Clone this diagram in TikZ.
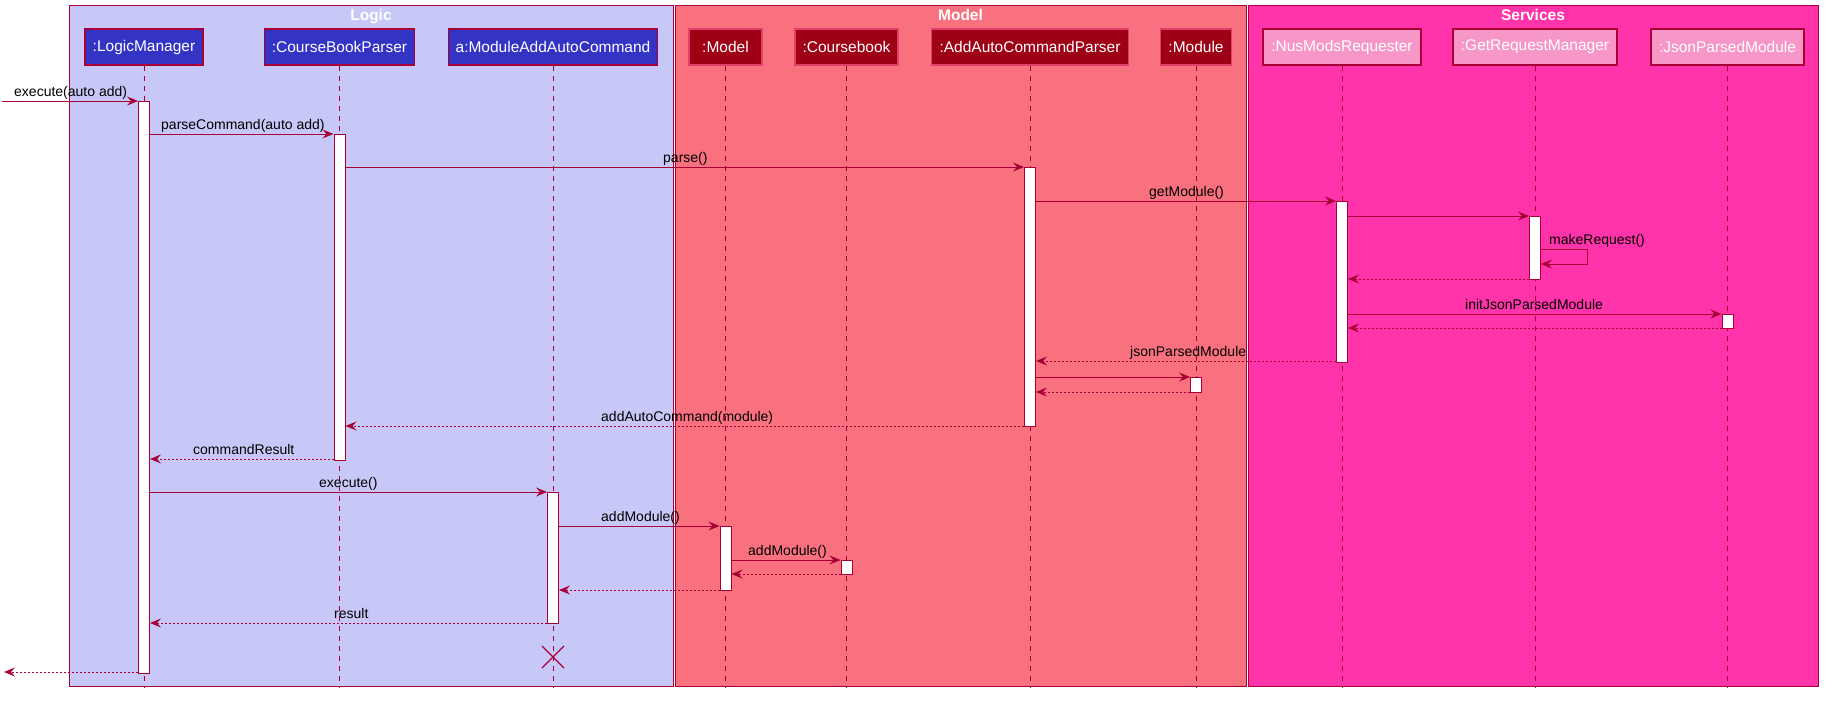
\documentclass[tikz,border=0pt]{standalone}
\usepackage{fontspec}
\setmainfont{Liberation Sans}
\usetikzlibrary{arrows.meta}
\definecolor{lc}{HTML}{A80036}
\definecolor{logicbg}{HTML}{C8C8F8}
\definecolor{modelbg}{HTML}{F9717F}
\definecolor{servbg}{HTML}{FF33AA}
\definecolor{logicpart}{HTML}{3333C4}
\definecolor{modelpart}{HTML}{9E0016}
\definecolor{modelborder}{HTML}{E0406A}
\definecolor{servpart}{HTML}{F797C7}
\tikzset{
  frame/.style={draw=lc, line width=0.8pt},
  ftitle/.style={anchor=base, inner sep=0pt, text=white, font=\bfseries\fontsize{15.5}{18}\selectfont},
  part/.style={minimum height=36pt, inner sep=0pt, text=white, font=\fontsize{15.5}{18}\selectfont, line width=1.2pt},
  lpart/.style={part, fill=logicpart, draw=lc},
  mpart/.style={part, fill=modelpart, draw=modelborder},
  spart/.style={part, fill=servpart, draw=lc},
  life/.style={draw=lc, line width=0.9pt, dash pattern=on 5pt off 5pt},
  act/.style={draw=lc, fill=white, line width=1pt, minimum width=11pt, inner sep=0pt},
  msg/.style={draw=lc, line width=1pt, -{Stealth[length=11pt,width=9pt,inset=4pt,fill=lc]}},
  ret/.style={msg, dash pattern=on 2pt off 2pt},
  lbl/.style={anchor=base west, inner sep=0pt, font=\fontsize{14}{16}\selectfont},
  killmark/.style={draw=lc, line width=1.3pt}
}
\begin{document}
\begin{tikzpicture}[x=1pt,y=-1pt]
\useasboundingbox (0,0) rectangle (1829,704);
\fill[white] (0,0) rectangle (1829,704);
% frames
\draw[frame, fill=logicbg] (69,5) rectangle (673,686);
\draw[frame, fill=modelbg] (675,5) rectangle (1246,686);
\draw[frame, fill=servbg] (1248,5) rectangle (1818,686);
\node[ftitle] (tLogic) at (371,20.5) {Logic};
\node[ftitle] (tModel) at (960.5,20.5) {Model};
\node[ftitle] (tServ) at (1533,20.5) {Services};
% participants
\node[lpart, minimum width=118pt] (pLM) at (144,47) {:LogicManager};
\node[lpart, minimum width=150pt] (pCBP) at (339.5,47) {:CourseBookParser};
\node[lpart, minimum width=209pt] (pMAA) at (553,47) {a:ModuleAddAutoCommand};
\node[mpart, minimum width=73pt] (pMOD) at (725.5,47) {:Model};
\node[mpart, minimum width=103pt] (pCB) at (846.5,47) {:Coursebook};
\node[mpart, minimum width=197pt] (pAACP) at (1030,47) {:AddAutoCommandParser};
\node[mpart, minimum width=71pt] (pMODU) at (1196,47) {:Module};
\node[spart, minimum width=158pt] (pNMR) at (1342,47) {:NusModsRequester};
\node[spart, minimum width=164pt] (pGRM) at (1535,47) {:GetRequestManager};
\node[spart, minimum width=153pt] (pJPM) at (1727.5,47) {:JsonParsedModule};
% lifelines
\foreach \p in {pLM,pCBP,pMAA,pMOD,pCB,pAACP,pMODU,pNMR,pGRM,pJPM}
  \draw[life] (\p.south) -- (\p.south |- 0,688);
% activations
\node[act, minimum height=572pt] (aLM) at (144,387) {};
\node[act, minimum height=326pt] (aCBP) at (339.5,297) {};
\node[act, minimum height=259pt] (aAACP) at (1030,296.5) {};
\node[act, minimum height=161pt] (aNMR) at (1342,281.5) {};
\node[act, minimum height=63pt] (aGRM) at (1535,247.5) {};
\node[act, minimum height=14pt] (aJPM) at (1727.5,321) {};
\node[act, minimum height=15pt] (aMODU) at (1196,384.5) {};
\node[act, minimum height=131pt] (aMAA) at (553,557.5) {};
\node[act, minimum height=64pt] (aMOD) at (725.5,558) {};
\node[act, minimum height=14pt] (aCB) at (846.5,567) {};
% messages
\coordinate (in) at (2,101);
\draw[msg] (in) -- (aLM.west |- in);
\draw[msg] (aLM.east |- 0,134) -- (aCBP.west |- 0,134);
\draw[msg] (aCBP.east |- 0,167) -- (aAACP.west |- 0,167);
\draw[msg] (aAACP.east |- 0,201) -- (aNMR.west |- 0,201);
\draw[msg] (aNMR.east |- 0,216) -- (aGRM.west |- 0,216);
\draw[msg] (aGRM.east |- 0,249) -- (1587,249) -- (1587,264) -- (aGRM.east |- 0,264);
\draw[ret] (aGRM.west |- 0,279) -- (aNMR.east |- 0,279);
\draw[msg] (aNMR.east |- 0,314) -- (aJPM.west |- 0,314);
\draw[ret] (aJPM.west |- 0,328) -- (aNMR.east |- 0,328);
\draw[ret] (aNMR.west |- 0,361) -- (aAACP.east |- 0,361);
\draw[msg] (aAACP.east |- 0,377) -- (aMODU.west |- 0,377);
\draw[ret] (aMODU.west |- 0,392) -- (aAACP.east |- 0,392);
\draw[ret] (aAACP.west |- 0,426) -- (aCBP.east |- 0,426);
\draw[ret] (aCBP.west |- 0,459) -- (aLM.east |- 0,459);
\draw[msg] (aLM.east |- 0,492) -- (aMAA.west |- 0,492);
\draw[msg] (aMAA.east |- 0,526) -- (aMOD.west |- 0,526);
\draw[msg] (aMOD.east |- 0,560) -- (aCB.west |- 0,560);
\draw[ret] (aCB.west |- 0,574) -- (aMOD.east |- 0,574);
\draw[ret] (aMOD.west |- 0,590) -- (aMAA.east |- 0,590);
\draw[ret] (aMAA.west |- 0,623) -- (aLM.east |- 0,623);
\coordinate (out) at (4,672);
\draw[ret] (aLM.west |- 0,672) -- (out);
% destroy mark
\draw[killmark] (542,646) -- (564,668) (542,668) -- (564,646);
% labels
\node[lbl] (l1) at (14,96) {execute(auto add)};
\node[lbl] (l2) at (161,129) {parseCommand(auto add)};
\node[lbl] (l3) at (663,162) {parse()};
\node[lbl] (l4) at (1149,196) {getModule()};
\node[lbl] (l5) at (1549,244) {makeRequest()};
\node[lbl] (l6) at (1465,309) {initJsonParsedModule};
\node[lbl] (l7) at (1130,356) {jsonParsedModule};
\node[lbl] (l8) at (601,421) {addAutoCommand(module)};
\node[lbl] (l9) at (193,454) {commandResult};
\node[lbl] (l10) at (319,487) {execute()};
\node[lbl] (l11) at (601,521) {addModule()};
\node[lbl] (l12) at (748,555) {addModule()};
\node[lbl] (l13) at (334,618) {result};
\end{tikzpicture}
\end{document}
